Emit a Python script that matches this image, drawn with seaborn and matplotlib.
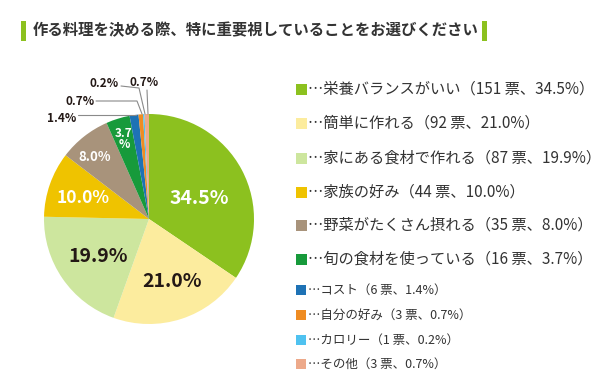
import numpy as np
import matplotlib
matplotlib.use("Agg")
import matplotlib.pyplot as plt
import seaborn as sns
from matplotlib.patches import Rectangle

sns.set_theme(style="white")
plt.rcParams['font.family'] = ['Noto Sans CJK JP', 'DejaVu Sans']

title = "作る料理を決める際、特に重要視していることをお選びください"
categories = ['栄養バランスがいい', '簡単に作れる', '家にある食材で作れる', '家族の好み',
              '野菜がたくさん摂れる', '旬の食材を使っている', 'コスト', '自分の好み',
              'カロリー', 'その他']
votes = [151, 92, 87, 44, 35, 16, 6, 3, 1, 3]
pct_labels = ['34.5%', '21.0%', '19.9%', '10.0%', '8.0%', '3.7\n%', '1.4%', '0.7%', '0.2%', '0.7%']
pct_legend = ['34.5%', '21.0%', '19.9%', '10.0%', '8.0%', '3.7%', '1.4%', '0.7%', '0.2%', '0.7%']
colors = ['#8cc11f', '#fcec9e', '#cde69e', '#efc300', '#a8937b', '#179a3b',
          '#1e72b5', '#ef8c22', '#4fc2f0', '#eda98a']

W, H = 615, 389
fig = plt.figure(figsize=(W / 100, H / 100), dpi=100)
fig.patch.set_facecolor('white')
ax = fig.add_axes([0, 0, 1, 1])

def py(y):
    return H - y

cx, cy, R = 149, py(219), 105
wedges, _ = ax.pie(votes, colors=colors, startangle=90, counterclock=False,
                   center=(cx, cy), radius=R, frame=True,
                   wedgeprops=dict(linewidth=0))
ax.set_xlim(0, W)
ax.set_ylim(0, H)
ax.set_aspect('equal')
ax.axis('off')

# inside labels: (radius fraction, angle offset, color, size)
inside = [(0.52, -6, 'white', 14), (0.63, 2, '#231815', 14), (0.60, 2, '#231815', 14),
          (0.66, 2, 'white', 12.5), (0.78, 3, 'white', 9.5), (0.80, 0, 'white', 8.5)]
for i, (rf, off, col, fs) in enumerate(inside):
    w = wedges[i]
    ang = np.deg2rad((w.theta1 + w.theta2) / 2 + off)
    x = cx + rf * R * np.cos(ang)
    y = cy + rf * R * np.sin(ang)
    ax.text(x, y, pct_labels[i], ha='center', va='center', color=col, fontsize=fs,
            fontweight='bold', linespacing=0.8)

# outside labels with leader lines
outside = [(6, (62, 118), [(78, 115), (136, 115)]),
           (7, (80, 101), [(96, 101), (137, 101), (142, 114)]),
           (8, (104, 83), [(121, 86), (139, 88), (145, 114)]),
           (9, (144, 82), [(147, 90), (148, 114)])]
for i, (tx, ty), pts in outside:
    ax.text(tx, py(ty), pct_labels[i], ha='center', va='center', color='#231815',
            fontsize=8.5, fontweight='bold')
    xs = [p[0] for p in pts]
    ys = [py(p[1]) for p in pts]
    ax.plot(xs, ys, color='#8a8a8a', lw=0.8)

# title with green bars
ax.add_patch(Rectangle((21, py(41)), 5, 20, color='#8cc11f', lw=0))
ax.add_patch(Rectangle((482, py(41)), 5, 20, color='#8cc11f', lw=0))
ax.text(33, py(30), title, ha='left', va='center', fontsize=11.1, fontweight='bold',
        color='#333333')

# legend
rows_y = [89, 123, 158, 192, 225, 259, 290, 315, 340, 364]
for i, cat in enumerate(categories):
    big = i < 6
    sq = 11 if big else 10
    y = rows_y[i]
    ax.add_patch(Rectangle((296, py(y) - sq / 2), sq, sq, color=colors[i], lw=0))
    txt = f"…{cat}（{votes[i]} 票、{pct_legend[i]}）"
    ax.text(308, py(y), txt, ha='left', va='center', fontsize=11.0 if big else 9.0,
            color='#333333')

fig.savefig('out.png', dpi=100, facecolor='white')
